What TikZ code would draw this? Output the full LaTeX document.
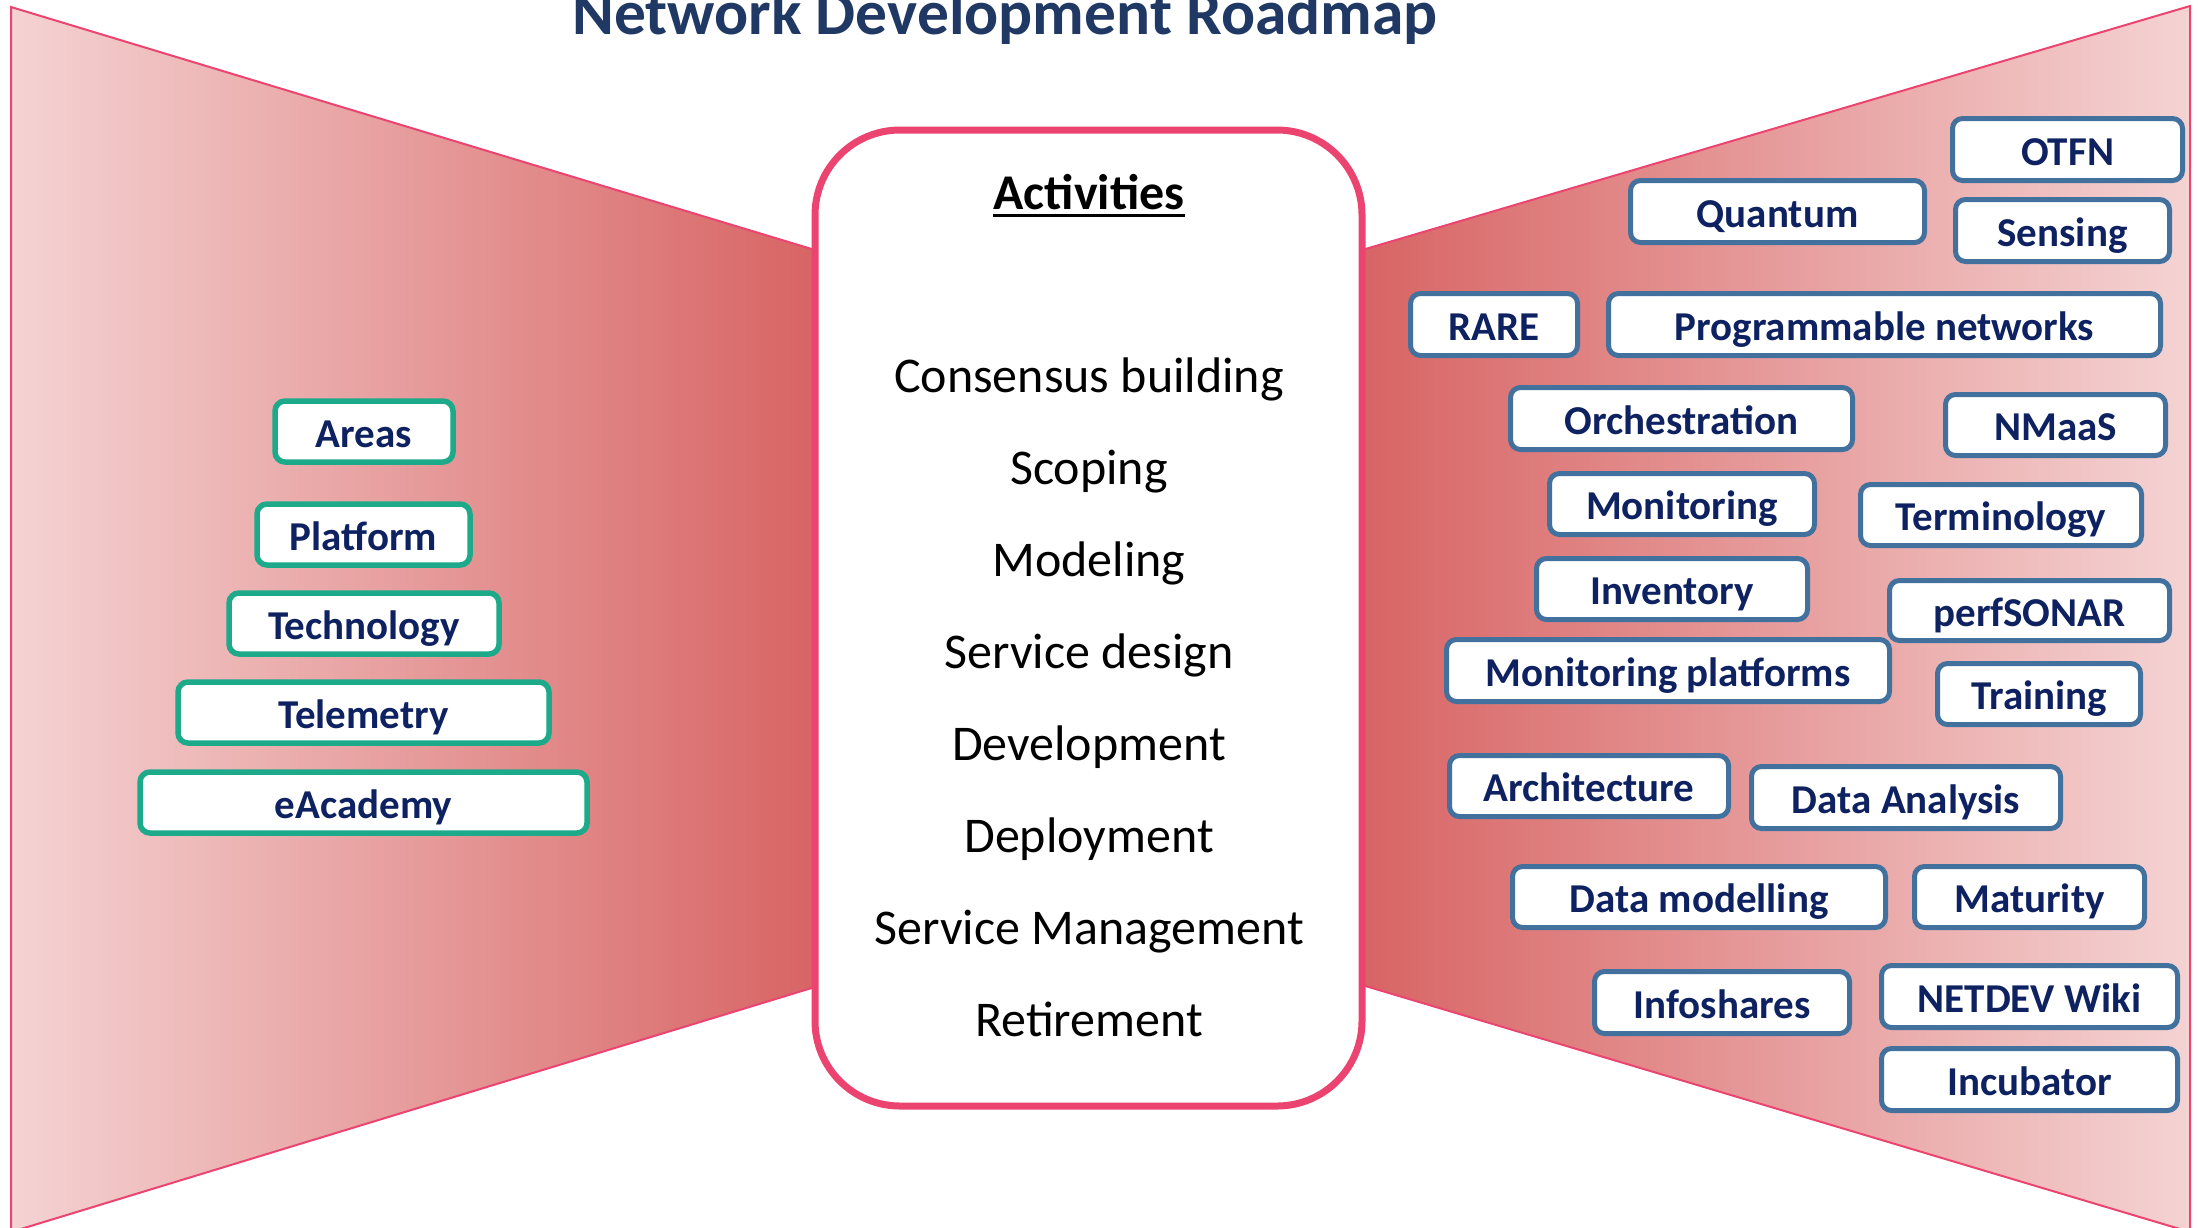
\documentclass[tikz,border=0pt]{standalone}
\usepackage{fontspec}
\setmainfont{Carlito}
\definecolor{titleblue}{HTML}{203864}
\definecolor{navy}{HTML}{0E2160}
\definecolor{boxgreen}{HTML}{1DAA8A}
\definecolor{boxblue}{HTML}{41719C}
\definecolor{pinkline}{HTML}{EC4470}
\definecolor{trdark}{HTML}{D86464}
\definecolor{trlight}{HTML}{F5D3D3}
\begin{document}
\begin{tikzpicture}[x=1pt,y=-1pt,
  boxbase/.style={fill=white, rounded corners=10pt, inner sep=0pt,
    font=\fontsize{41}{49}\selectfont\bfseries, text=navy,
    text height=31pt, text depth=0pt},
  lbox/.style={boxbase, draw=boxgreen, line width=5.5pt},
  rbox/.style={boxbase, draw=boxblue, line width=5pt},
  actitem/.style={anchor=base, inner sep=0pt, font=\fontsize{50}{60}\selectfont, text=black}]
\useasboundingbox (0,0) rectangle (2199,1227);
\clip (0,0) rectangle (2199,1227);
% trapezoids
\shadedraw[draw=pinkline, line width=2pt, left color=trlight, right color=trdark]
  (11,7) -- (815,250) -- (815,987) -- (11,1232) -- cycle;
\shadedraw[draw=pinkline, line width=2pt, left color=trdark, right color=trlight]
  (1362,250) -- (2190,6) -- (2190,1232) -- (1362,985) -- cycle;
% title
\node[anchor=base, inner sep=0pt, font=\fontsize{63.5}{70}\selectfont\bfseries, text=titleblue] (title) at (1005,34) {Network Development Roadmap};
% activities box
\node[draw=pinkline, line width=7pt, fill=white, rounded corners=85pt, minimum width=547pt, minimum height=976pt, inner sep=0pt] (actbox) at (1088.5,618) {};
\node[actitem, font=\fontsize{50}{60}\selectfont\bfseries] (acthead) at (1089,209) {Activities};
\draw[line width=3pt] ([yshift=-6pt]acthead.base west) -- ([yshift=-6pt]acthead.base east);
\node[actitem] (a1) at (1089,392) {Consensus building};
\node[actitem] (a2) at (1089,484) {Scoping};
\node[actitem] (a3) at (1089,576) {Modeling};
\node[actitem] (a4) at (1089,668) {Service design};
\node[actitem] (a5) at (1089,760) {Development};
\node[actitem] (a6) at (1089,852) {Deployment};
\node[actitem] (a7) at (1089,944) {Service Management};
\node[actitem] (a8) at (1089,1036) {Retirement};
% left boxes
\node[lbox, minimum width=178pt, minimum height=61pt] (areas) at (364,431.5) {Areas};
\node[lbox, minimum width=213pt, minimum height=61pt] (platform) at (363.5,534.5) {Platform};
\node[lbox, minimum width=270pt, minimum height=61pt] (technology) at (364,623.5) {Technology};
\node[lbox, minimum width=371pt, minimum height=61pt] (telemetry) at (363.5,712.5) {Telemetry};
\node[lbox, minimum width=447pt, minimum height=61pt] (eacademy) at (363.5,802.5) {eAcademy};
% right boxes
\node[rbox, minimum width=230pt, minimum height=62pt] (otfn) at (2067.5,149.5) {OTFN};
\node[rbox, minimum width=294pt, minimum height=62pt] (quantum) at (1777.5,211.5) {Quantum};
\node[rbox, minimum width=214pt, minimum height=62pt] (sensing) at (2062.5,230.5) {Sensing};
\node[rbox, minimum width=167pt, minimum height=62pt] (rare) at (1494,324.5) {RARE};
\node[rbox, minimum width=552pt, minimum height=62pt] (prog) at (1884.5,324.5) {Programmable networks};
\node[rbox, minimum width=342pt, minimum height=62pt] (orch) at (1681.5,418.5) {Orchestration};
\node[rbox, minimum width=220pt, minimum height=61pt] (nmaas) at (2055.5,425) {NMaaS};
\node[rbox, minimum width=265pt, minimum height=61pt] (monitoring) at (1682,504) {Monitoring};
\node[rbox, minimum width=281pt, minimum height=61pt] (terminology) at (2001,515) {Terminology};
\node[rbox, minimum width=271pt, minimum height=61pt] (inventory) at (1672,589) {Inventory};
\node[rbox, minimum width=280pt, minimum height=60pt] (perfsonar) at (2029.5,610.5) {perfSONAR};
\node[rbox, minimum width=443pt, minimum height=62pt] (monplat) at (1668,670.5) {Monitoring platforms};
\node[rbox, minimum width=203pt, minimum height=61pt] (training) at (2039,694) {Training};
\node[rbox, minimum width=279pt, minimum height=61pt] (arch) at (1589,786) {Architecture};
\node[rbox, minimum width=309pt, minimum height=62pt] (dataan) at (1906,797.5) {Data Analysis};
\node[rbox, minimum width=373pt, minimum height=61pt] (datamod) at (1699,897) {Data modelling};
\node[rbox, minimum width=230pt, minimum height=61pt] (maturity) at (2029.5,897) {Maturity};
\node[rbox, minimum width=255pt, minimum height=62pt] (infoshares) at (1722,1002.5) {Infoshares};
\node[rbox, minimum width=296pt, minimum height=62pt] (wiki) at (2029.5,996.5) {NETDEV Wiki};
\node[rbox, minimum width=296pt, minimum height=62pt] (incubator) at (2029.5,1079.5) {Incubator};
\end{tikzpicture}
\end{document}
